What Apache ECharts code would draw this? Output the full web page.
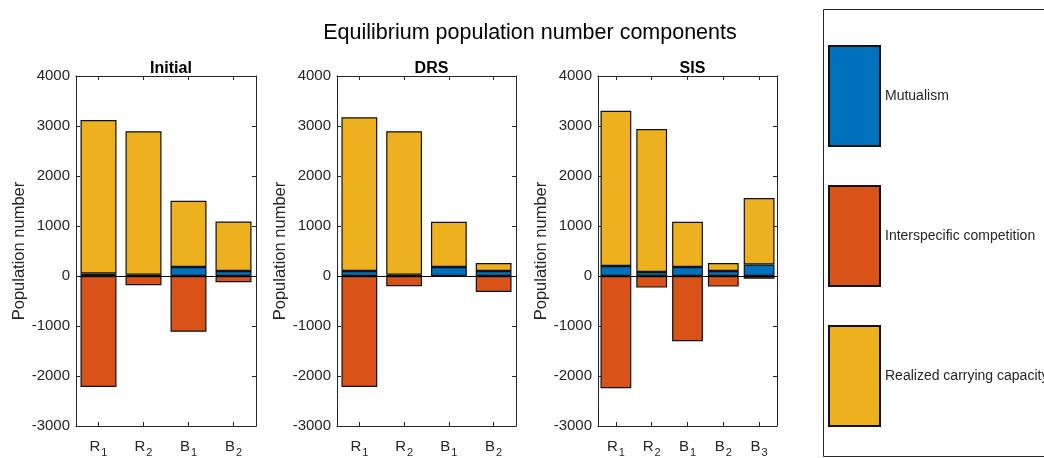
<!DOCTYPE html>
<html><head><meta charset="utf-8">
<script src="https://cdn.jsdelivr.net/npm/echarts@6/dist/echarts.min.js"></script>
<style>html,body{margin:0;padding:0;background:#fff}#c{width:1044px;height:458px}</style>
</head><body><div id="c"></div>
<script>
// ---- data ----
const panelTitles = ['Initial', 'DRS', 'SIS'];
const catsInitial = ['R1', 'R2', 'B1', 'B2'];
const catsDRS = ['R1', 'R2', 'B1', 'B2'];
const catsSIS = ['R1', 'R2', 'B1', 'B2', 'B3'];
// Mutualism (blue)
const mutInitial = [50, 25, 180, 100];
const mutDRS = [100, 25, 180, 100];
const mutSIS = [200, 80, 180, 100, 230];
// Interspecific competition (orange, negative)
const compInitial = [-2220, -185, -1115, -125];
const compDRS = [-2220, -205, 0, -320];
const compSIS = [-2245, -232, -1305, -212, -53];
// Realized carrying capacity (yellow), stacked on top of mutualism
const capInitial = [3070, 2870, 1325, 990];
const capDRS = [3075, 2870, 905, 160];
const capSIS = [3105, 2860, 905, 160, 1330];
const seriesNames = ['Mutualism', 'Interspecific competition', 'Realized carrying capacity'];
const yTicks = {min: -3000, max: 4000, interval: 1000};

// ---- chart ----
const colors = ['#0072BD', '#D95319', '#EDB120'];
const FONT = 'Liberation Sans';
const axisCol = '#262626';
const panels = [
  {cats: catsInitial, data: [mutInitial, compInitial, capInitial], left: 76, width: 180, gap: '20%'},
  {cats: catsDRS, data: [mutDRS, compDRS, capDRS], left: 337, width: 179, gap: '20%'},
  {cats: catsSIS, data: [mutSIS, compSIS, capSIS], left: 598, width: 179, gap: '14%'}
];
const gTop = 76, gHeight = 352;
const grids = [], xAxes = [], yAxes = [], series = [];
const titles = [{
  text: 'Equilibrium population number components', left: 525, top: 17, textAlign: 'center',
  textStyle: {fontFamily: FONT, fontSize: 21.5, fontWeight: 'normal', color: '#000'}
}];
const catFmt = v => '{m|' + v[0] + '}{s|' + v.slice(1) + '}';
panels.forEach((p, i) => {
  grids.push({left: p.left, top: gTop, width: p.width, height: gHeight, containLabel: false});
  titles.push({
    text: panelTitles[i], left: p.left + p.width / 2, top: 56, textAlign: 'center',
    textStyle: {fontFamily: FONT, fontSize: 16, fontWeight: 'bold', color: '#000'}
  });
  const line = {show: true, lineStyle: {color: axisCol, width: 1}};
  const tick = {show: true, inside: true, length: 4, alignWithLabel: true, lineStyle: {color: axisCol}};
  xAxes.push({
    type: 'category', gridIndex: i, data: p.cats, position: 'bottom',
    axisLine: Object.assign({onZero: false}, line), axisTick: tick,
    axisLabel: {
      formatter: catFmt, margin: 10, interval: 0,
      rich: {
        m: {fontFamily: FONT, fontSize: 15, color: axisCol},
        s: {fontFamily: FONT, fontSize: 11, color: axisCol, padding: [11, 0, 0, 1]}
      }
    }
  });
  xAxes.push({
    type: 'category', gridIndex: i, data: p.cats, position: 'top',
    axisLine: Object.assign({onZero: false}, line), axisTick: tick, axisLabel: {show: false}
  });
  const yBase = {
    type: 'value', gridIndex: i, min: yTicks.min, max: yTicks.max, interval: yTicks.interval,
    splitLine: {show: false}, axisLine: line,
    axisTick: {show: true, inside: true, length: 4, lineStyle: {color: axisCol}}
  };
  yAxes.push(Object.assign({}, yBase, {
    position: 'left',
    name: 'Population number', nameLocation: 'middle', nameGap: 48, nameRotate: 90,
    nameTextStyle: {fontFamily: FONT, fontSize: 16.5, color: axisCol},
    axisLabel: {fontFamily: FONT, fontSize: 15, color: axisCol, margin: 6, formatter: v => String(v)}
  }));
  yAxes.push(Object.assign({}, yBase, {position: 'right', axisLabel: {show: false}}));
  seriesNames.forEach((n, k) => {
    const s = {
      name: n, type: 'bar', stack: 'p' + i, xAxisIndex: 2 * i, yAxisIndex: 2 * i,
      data: p.data[k], barCategoryGap: p.gap,
      itemStyle: {color: colors[k], borderColor: '#111', borderWidth: 1.2},
      emphasis: {disabled: true}, animation: false
    };
    if (k === 0) {
      s.markLine = {
        silent: true, symbol: 'none', label: {show: false}, animation: false,
        lineStyle: {color: '#000', width: 1, type: 'solid'},
        data: [{yAxis: 0}]
      };
    }
    series.push(s);
  });
});
const chart = echarts.init(document.getElementById('c'), null, {renderer: 'canvas'});
chart.setOption({
  animation: false,
  title: titles,
  grid: grids, xAxis: xAxes, yAxis: yAxes, series: series,
  legend: {
    data: seriesNames, orient: 'vertical', left: 828, top: 45, padding: 0,
    itemWidth: 51, itemHeight: 100, itemGap: 38, icon: 'rect', selectedMode: false,
    textStyle: {fontFamily: FONT, fontSize: 14, color: axisCol}
  },
  graphic: [{
    type: 'rect', shape: {x: 823.5, y: 9.5, width: 300, height: 447},
    style: {fill: 'none', stroke: '#262626', lineWidth: 1}, silent: true
  }]
});
</script></body></html>
